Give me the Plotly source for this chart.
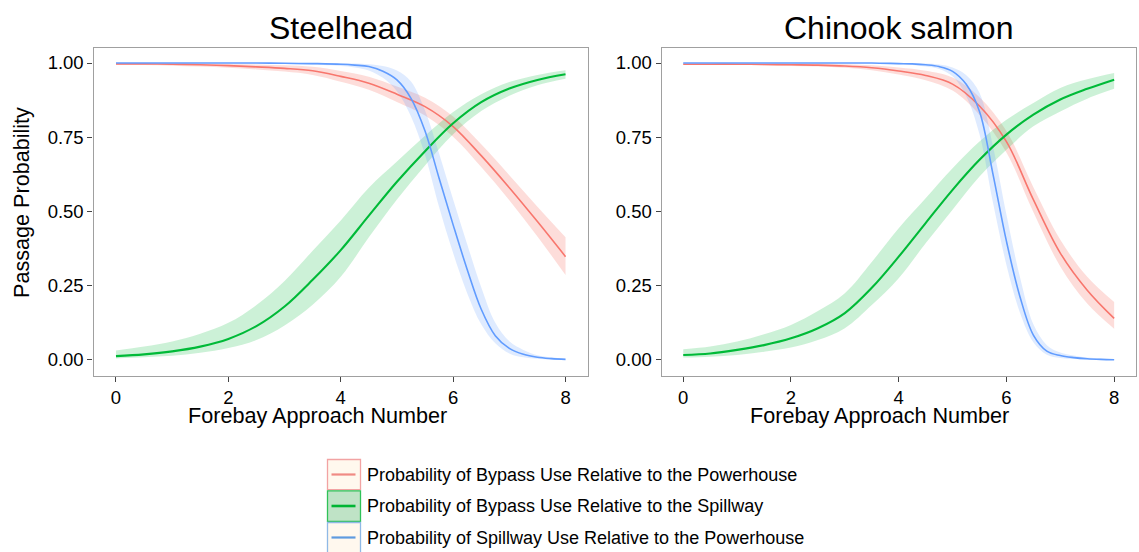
import plotly.graph_objects as go

# ---------------- data ----------------
# coarse grid (red & green curves) and fine grid (steep blue curves)
x_coarse = [0, 0.5, 1, 1.5, 2, 2.5, 3, 3.5, 4, 4.5, 5, 5.5, 6, 6.5, 7, 7.5, 8]
x_fine = [0, 0.5, 1, 1.5, 2, 2.5, 3, 3.5,
          4, 4.25, 4.5, 4.75, 5, 5.25, 5.5, 5.75, 6, 6.25, 6.5, 6.75, 7, 7.25, 7.5, 7.75, 8]

series_names = [
    "Probability of Bypass Use Relative to the Powerhouse",
    "Probability of Bypass Use Relative to the Spillway",
    "Probability of Spillway Use Relative to the Powerhouse",
]
panel_titles = ["Steelhead", "Chinook salmon"]
x_tick_vals = [0, 2, 4, 6, 8]
y_tick_vals = [0, 0.25, 0.5, 0.75, 1.0]
y_tick_text = ["0.00", "0.25", "0.50", "0.75", "1.00"]

# ---- Steelhead ----
sh_bp_mid = [0.997, 0.997, 0.996, 0.994, 0.991, 0.987, 0.982, 0.974, 0.955, 0.932, 0.895, 0.853,
             0.786, 0.688, 0.580, 0.466, 0.348]
sh_bp_lo = [0.993, 0.993, 0.991, 0.988, 0.984, 0.978, 0.971, 0.960, 0.937, 0.910, 0.869, 0.823,
            0.752, 0.650, 0.538, 0.416, 0.286]
sh_bp_hi = [1.000, 1.000, 0.999, 0.998, 0.997, 0.995, 0.992, 0.987, 0.973, 0.954, 0.921, 0.883,
            0.820, 0.726, 0.622, 0.516, 0.413]

sh_bs_mid = [0.013, 0.019, 0.029, 0.045, 0.071, 0.114, 0.180, 0.270, 0.370, 0.486, 0.600, 0.703,
             0.797, 0.868, 0.914, 0.943, 0.962]
sh_bs_lo = [0.005, 0.009, 0.014, 0.024, 0.040, 0.067, 0.116, 0.186, 0.280, 0.413, 0.540, 0.655,
            0.760, 0.838, 0.890, 0.925, 0.947]
sh_bs_hi = [0.032, 0.045, 0.062, 0.088, 0.125, 0.185, 0.266, 0.368, 0.470, 0.580, 0.668, 0.755,
            0.835, 0.895, 0.936, 0.960, 0.976]

sh_sp_mid = [1.000, 1.000, 1.000, 1.000, 1.000, 1.000, 0.999, 0.998,
             0.996, 0.993, 0.988, 0.972, 0.943, 0.881, 0.771, 0.612, 0.455, 0.305, 0.171, 0.082,
             0.039, 0.019, 0.009, 0.0045, 0.002]
sh_sp_lo = [0.999, 0.999, 0.999, 0.999, 0.999, 0.998, 0.997, 0.994,
            0.990, 0.985, 0.975, 0.950, 0.905, 0.820, 0.690, 0.515, 0.360, 0.225, 0.120, 0.056,
            0.022, 0.009, 0.004, 0.001, 0.000]
sh_sp_hi = [1.000, 1.000, 1.000, 1.000, 1.000, 1.000, 1.000, 1.000,
            0.999, 0.998, 0.996, 0.990, 0.975, 0.938, 0.840, 0.695, 0.540, 0.390, 0.245, 0.125,
            0.063, 0.034, 0.016, 0.009, 0.004]

# ---- Chinook salmon ----
ck_bp_mid = [0.996, 0.996, 0.996, 0.995, 0.994, 0.993, 0.990, 0.984, 0.973, 0.958, 0.929, 0.855,
             0.735, 0.540, 0.360, 0.235, 0.140]
ck_bp_lo = [0.993, 0.993, 0.993, 0.992, 0.990, 0.988, 0.984, 0.976, 0.961, 0.942, 0.907, 0.825,
            0.699, 0.498, 0.315, 0.190, 0.105]
ck_bp_hi = [0.999, 0.999, 0.999, 0.998, 0.998, 0.998, 0.996, 0.992, 0.985, 0.974, 0.951, 0.885,
            0.771, 0.582, 0.405, 0.280, 0.195]

ck_bs_mid = [0.017, 0.022, 0.034, 0.050, 0.073, 0.107, 0.158, 0.243, 0.348, 0.461, 0.573, 0.674,
             0.759, 0.826, 0.877, 0.913, 0.944]
ck_bs_lo = [0.008, 0.011, 0.017, 0.028, 0.042, 0.067, 0.107, 0.185, 0.275, 0.393, 0.506, 0.618,
            0.708, 0.787, 0.837, 0.880, 0.913]
ck_bs_hi = [0.036, 0.045, 0.062, 0.087, 0.118, 0.165, 0.225, 0.330, 0.444, 0.545, 0.646, 0.736,
            0.809, 0.865, 0.916, 0.945, 0.966]

ck_sp_mid = [1.000, 1.000, 1.000, 1.000, 1.000, 1.000, 1.000, 1.000,
             0.998, 0.997, 0.994, 0.988, 0.972, 0.929, 0.837, 0.626, 0.400, 0.214, 0.084, 0.030,
             0.015, 0.008, 0.004, 0.002, 0.001]
ck_sp_lo = [0.999, 0.999, 0.999, 0.999, 0.999, 0.999, 0.999, 0.998,
            0.995, 0.993, 0.988, 0.980, 0.955, 0.890, 0.760, 0.530, 0.320, 0.160, 0.060, 0.018,
            0.007, 0.003, 0.001, 0.000, 0.000]
ck_sp_hi = [1.000, 1.000, 1.000, 1.000, 1.000, 1.000, 1.000, 1.000,
            1.000, 0.999, 0.998, 0.995, 0.985, 0.960, 0.900, 0.720, 0.490, 0.280, 0.120, 0.050,
            0.025, 0.015, 0.008, 0.005, 0.003]

panels = [
    [(x_coarse, sh_bp_lo, sh_bp_mid, sh_bp_hi), (x_coarse, sh_bs_lo, sh_bs_mid, sh_bs_hi),
     (x_fine, sh_sp_lo, sh_sp_mid, sh_sp_hi)],
    [(x_coarse, ck_bp_lo, ck_bp_mid, ck_bp_hi), (x_coarse, ck_bs_lo, ck_bs_mid, ck_bs_hi),
     (x_fine, ck_sp_lo, ck_sp_mid, ck_sp_hi)],
]

# ---------------- style ----------------
W, H = 1139, 552
FONT = "Liberation Sans, Arial, sans-serif"
line_colors = ["#F8766D", "#00BA38", "#619CFF"]
fill_colors = ["rgba(248,118,109,0.25)", "rgba(0,186,56,0.2)", "rgba(97,156,255,0.2)"]
line_widths = [1.6, 2.1, 1.6]
SM = 1.0


def px(xp):
    return xp / W


def py(yp):
    return 1 - yp / H


fig = go.Figure()
axis_ids = [("x", "y"), ("x2", "y2")]
for p, (xa, ya) in enumerate(axis_ids):
    for s, (xs, lo, mid, hi) in enumerate(panels[p]):
        fig.add_trace(go.Scatter(x=xs, y=lo, mode="lines", line=dict(width=0, shape="spline", smoothing=SM),
                                 xaxis=xa, yaxis=ya, showlegend=False, hoverinfo="skip"))
        fig.add_trace(go.Scatter(x=xs, y=hi, mode="lines", line=dict(width=0, shape="spline", smoothing=SM),
                                 fill="tonexty", fillcolor=fill_colors[s],
                                 xaxis=xa, yaxis=ya, showlegend=False, hoverinfo="skip"))
    for s, (xs, lo, mid, hi) in enumerate(panels[p]):
        fig.add_trace(go.Scatter(x=xs, y=mid, mode="lines", name=series_names[s],
                                 line=dict(color=line_colors[s], width=line_widths[s], shape="spline", smoothing=SM),
                                 xaxis=xa, yaxis=ya, showlegend=False))

ydom = [py(375.7), py(48)]
common_x = dict(range=[-0.4, 8.4], tickvals=x_tick_vals, ticktext=[str(v) for v in x_tick_vals],
                ticks="outside", ticklen=5, tickwidth=1, tickcolor="#444",
                showline=True, mirror=True, linecolor="#a0a0a0", linewidth=1.3,
                showgrid=False, zeroline=False,
                tickfont=dict(family=FONT, size=18.5, color="black"))
common_y = dict(range=[-0.0529, 1.0505], tickvals=y_tick_vals, ticktext=y_tick_text,
                ticks="outside", ticklen=5, tickwidth=1, tickcolor="#444",
                showline=True, mirror=True, linecolor="#a0a0a0", linewidth=1.3,
                showgrid=False, zeroline=False, domain=ydom,
                tickfont=dict(family=FONT, size=18.5, color="black"))

fig.update_layout(
    width=W, height=H, autosize=False,
    margin=dict(l=0, r=0, t=0, b=0),
    paper_bgcolor="white", plot_bgcolor="white",
    showlegend=False,
    xaxis=dict(domain=[px(93.5), px(588)], anchor="y", **common_x),
    yaxis=dict(anchor="x", **common_y),
    xaxis2=dict(domain=[px(661.7), px(1135.7)], anchor="y2", **common_x),
    yaxis2=dict(anchor="x2", **common_y),
)

annotations = [
    dict(text=panel_titles[0], x=px((93.5 + 588) / 2), y=py(28), xref="paper", yref="paper",
         xanchor="center", yanchor="middle", showarrow=False, font=dict(family=FONT, size=32, color="black")),
    dict(text=panel_titles[1], x=px((661.7 + 1135.7) / 2), y=py(28), xref="paper", yref="paper",
         xanchor="center", yanchor="middle", showarrow=False, font=dict(family=FONT, size=32, color="black")),
    dict(text="Forebay Approach Number", x=px(317.7), y=py(415.5), xref="paper", yref="paper",
         xanchor="center", yanchor="middle", showarrow=False, font=dict(family=FONT, size=21.6, color="black")),
    dict(text="Forebay Approach Number", x=px(879.5), y=py(415.5), xref="paper", yref="paper",
         xanchor="center", yanchor="middle", showarrow=False, font=dict(family=FONT, size=21.6, color="black")),
    dict(text="Passage Probability", x=px(22), y=py(203), xref="paper", yref="paper", textangle=-90,
         xanchor="center", yanchor="middle", showarrow=False, font=dict(family=FONT, size=21.6, color="black")),
]

# custom legend (boxes + key lines + labels)
legend_rows = [474.5, 506, 537.5]
box_y = [(459.5, 489.6), (490.8, 521.3), (522.5, 555)]
box_border = ["#F2A3A3", "#2FC257", "#8FB9E6"]
box_fill = ["#FFF8EE", "#BFE3C6", "#FFF8EE"]
key_line = ["#F08A84", "#00B533", "#5E9BE0"]
shapes = []
for i in range(3):
    shapes.append(dict(type="rect", xref="paper", yref="paper",
                       x0=px(327.5), x1=px(360.5), y0=py(box_y[i][1]), y1=py(box_y[i][0]),
                       line=dict(color=box_border[i], width=1.3), fillcolor=box_fill[i], layer="above"))
    shapes.append(dict(type="line", xref="paper", yref="paper",
                       x0=px(331.5), x1=px(355.5), y0=py(legend_rows[i]), y1=py(legend_rows[i]),
                       line=dict(color=key_line[i], width=2.6 if i == 1 else 2.2), layer="above"))
    annotations.append(dict(text=series_names[i], x=px(365), y=py(legend_rows[i]), xref="paper", yref="paper",
                            xanchor="left", yanchor="middle", showarrow=False,
                            font=dict(family=FONT, size=18, color="black")))

fig.update_layout(annotations=annotations, shapes=shapes)
fig.write_html("out.html")
